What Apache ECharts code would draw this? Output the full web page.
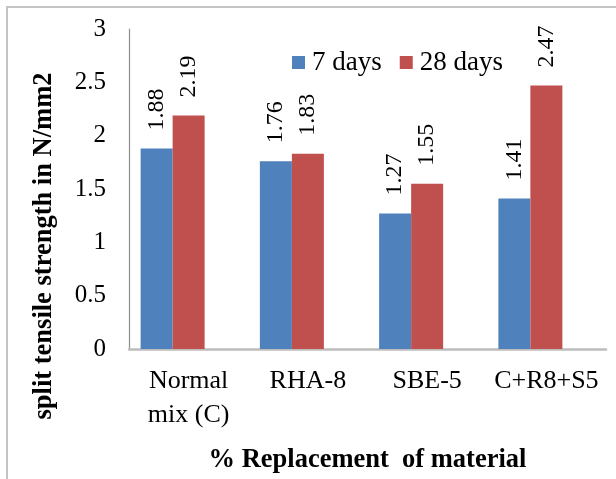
<!DOCTYPE html>
<html>
<head>
<meta charset="utf-8">
<script src="https://cdn.jsdelivr.net/npm/echarts@6/dist/echarts.min.js"></script>
<style>
  html, body { margin: 0; padding: 0; background: #fff; }
  #chart { width: 616px; height: 479px; }
</style>
</head>
<body>
<div id="chart"></div>
<script>
// Split tensile strength by mix, at 7 and 28 days of curing
const categories = ['Normal\nmix (C)', 'RHA-8', 'SBE-5', 'C+R8+S5'];
const days7 = [1.88, 1.76, 1.27, 1.41];
const days28 = [2.19, 1.83, 1.55, 2.47];
// Third slot of each cluster is reserved but left empty
const emptySlot = [null, null, null, null];
const yTicks = { min: 0, max: 3, interval: 0.5 };

const serif = '"Liberation Serif", "Times New Roman", serif';
const chart = echarts.init(document.getElementById('chart'), null, { renderer: 'canvas' });

const labelStyle = {
  show: true,
  position: 'top',
  distance: 18,
  rotate: 90,
  align: 'left',
  verticalAlign: 'middle',
  fontFamily: serif,
  fontSize: 24,
  color: '#000'
};

chart.setOption({
  animation: false,
  backgroundColor: '#fff',
  textStyle: { fontFamily: serif },
  graphic: [
    {
      type: 'rect',
      shape: { x: 7, y: 7, width: 700, height: 600 },
      style: { fill: 'none', stroke: '#c4c4c4', lineWidth: 2 },
      z: -1
    },
    {
      type: 'text',
      x: 44,
      y: 246,
      rotation: Math.PI / 2,
      style: {
        text: 'split tensile strength in N/mm2',
        fontFamily: serif,
        fontWeight: 'bold',
        fontSize: 26.5,
        fill: '#000',
        textAlign: 'center',
        textVerticalAlign: 'middle'
      }
    }
  ],
  legend: {
    data: ['7 days', '28 days'],
    left: 287,
    top: 44,
    itemWidth: 13,
    itemHeight: 13,
    itemGap: 18,
    icon: 'rect',
    textStyle: { fontFamily: serif, fontSize: 27, color: '#000', padding: [0, 0, 0, 2] }
  },
  grid: { left: 129, right: 10, top: 29, bottom: 128, containLabel: false },
  xAxis: {
    type: 'category',
    data: categories,
    name: '% Replacement  of material',
    nameLocation: 'middle',
    nameGap: 98,
    nameTextStyle: { fontFamily: serif, fontWeight: 'bold', fontSize: 26.5, color: '#000' },
    axisLine: { lineStyle: { color: '#bdbdbd', width: 2.5 } },
    axisTick: { show: false },
    axisLabel: {
      fontFamily: serif,
      fontSize: 26,
      lineHeight: 34,
      color: '#000',
      margin: 15,
      interval: 0
    }
  },
  yAxis: {
    type: 'value',
    min: yTicks.min,
    max: yTicks.max,
    interval: yTicks.interval,
    axisLine: { show: true, lineStyle: { color: '#8e8e8e', width: 1.2 } },
    axisTick: { show: false },
    splitLine: { show: false },
    axisLabel: {
      fontFamily: serif,
      fontSize: 25,
      color: '#000',
      margin: 23
    }
  },
  series: [
    {
      name: '7 days',
      type: 'bar',
      data: days7,
      barWidth: 32,
      barGap: '0%',
      itemStyle: { color: '#4f81bd' },
      label: labelStyle
    },
    {
      name: '28 days',
      type: 'bar',
      data: days28,
      barWidth: 32,
      barGap: '0%',
      itemStyle: { color: '#c0504d' },
      label: labelStyle
    },
    {
      name: 'empty',
      type: 'bar',
      data: emptySlot,
      barWidth: 32,
      barGap: '0%',
      itemStyle: { color: 'rgba(0,0,0,0)' },
      silent: true
    }
  ]
});
</script>
</body>
</html>
